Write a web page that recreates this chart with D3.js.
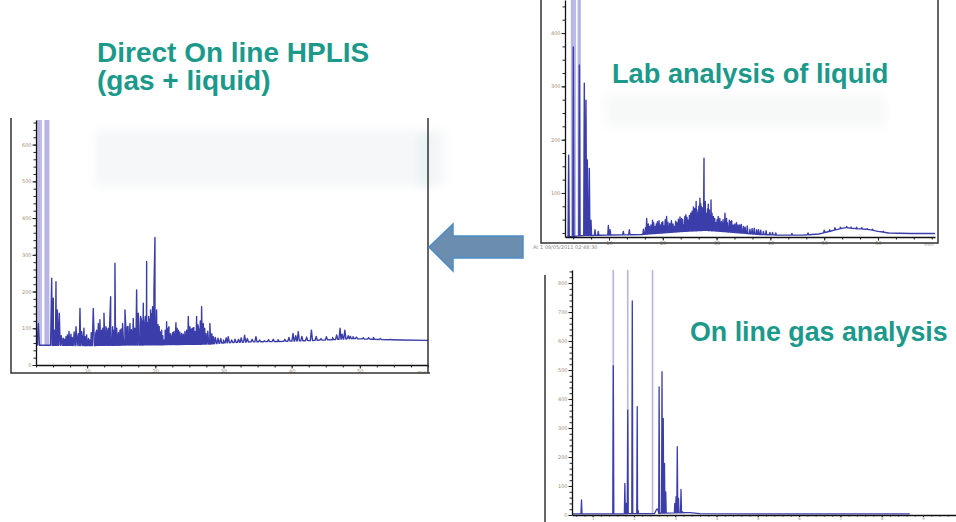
<!DOCTYPE html>
<html><head><meta charset="utf-8">
<script src="https://cdn.jsdelivr.net/npm/d3@7"></script>
<style>html,body{margin:0;padding:0;background:#fff;overflow:hidden}</style>
</head><body>
<svg id="c" width="956" height="522"></svg>
<script>
// ---------------- DATA ----------------
// Direct on-line HPLIS (gas + liquid): time (min), signal
const hplisBaseline = [[2.5,54],[10,53],[20,55],[28,57],[30,60],[34,63],[38,64],[42,66],[46,69],[49,72],[52,70],[56,68],[60,67]];
const hplisPeaks = [[2.84,113],[4.8,236],[5.04,182],[5.2,95],[5.43,227],[5.63,150],[5.92,141],[6.2,80],[6.5,73],[6.7,70],[6.9,77],[7.1,82],[7.34,91],[7.63,84],[7.8,75],[8.1,90],[8.37,104],[8.7,85],[8.95,154],[9.2,91],[9.54,100],[9.7,78],[9.93,82],[10.2,72],[10.4,68],[10.6,88],[10.9,154],[11.25,86],[11.4,95],[11.64,113],[11.88,123],[12.13,95],[12.3,100],[12.47,141],[12.76,104],[12.9,92],[13.1,100],[13.3,110],[13.45,186],[13.74,104],[13.9,95],[14.08,277],[14.33,100],[14.6,88],[14.82,95],[15.0,98],[15.2,113],[15.55,150],[15.7,92],[15.9,104],[16.0,105],[16.28,113],[16.5,96],[16.77,127],[17.0,100],[17.26,204],[17.5,141],[17.6,110],[17.85,132],[18.0,120],[18.24,168],[18.4,105],[18.53,132],[18.73,282],[18.9,115],[19.02,132],[19.15,125],[19.3,150],[19.45,140],[19.6,159],[19.8,200],[19.95,347],[20.19,150],[20.4,110],[20.58,104],[20.75,90],[20.93,95],[21.1,80],[21.27,68],[21.45,95],[21.66,118],[21.85,98],[22.0,104],[22.2,85],[22.4,77],[22.55,88],[22.73,91],[23.03,115],[23.2,100],[23.37,95],[23.6,90],[23.86,86],[24.1,84],[24.35,91],[24.6,95],[24.84,132],[25.08,104],[25.3,98],[25.47,100],[25.65,102],[25.81,91],[26.06,132],[26.25,110],[26.4,95],[26.6,120],[26.79,159],[27.04,113],[27.25,100],[27.43,86],[27.7,92],[28.0,113],[28.3,85],[28.5,77],[28.8,75],[29.2,73],[29.6,72],[30.0,68],[30.4,74],[30.7,77],[31.2,68],[31.7,70],[32.2,70],[32.6,74],[33.1,81],[33.5,72],[34.2,70],[34.76,77],[35.3,68],[36,66],[36.6,69],[37.3,70],[38,69],[39,70],[39.6,75],[40.2,86],[40.6,80],[40.97,91],[41.5,78],[42.2,76],[42.9,95],[43.6,78],[44.3,72],[45.1,77],[46,75],[46.6,82],[47.1,100],[47.4,84],[47.8,95],[48.3,80],[48.6,78],[49.0,77],[49.5,76],[50.5,74],[51.3,74],[52,75],[53,72],[54.5,70]];
const hplisOffscale = [2.65,2.85,3.05,3.25,3.85,4.02,4.2,4.35];
const hplisXTicks = [10,20,30,40,50];
const hplisYTicks = [0,100,200,300,400,500,600];

// Lab analysis of liquid
const liquidBaseline = [[1.8,17],[5,20],[10,21],[16,22],[20,25],[24,28],[28,30],[32,27],[38,22],[42,21],[46,21],[49,23],[51,28],[53,33],[54,35],[56,33],[58,32],[60,28],[62,25],[66,24],[70.6,24]];
const liquidPeaks = [[2.5,171],[3.37,374],[4.49,340],[5.41,306],[5.72,274],[5.97,162],[6.34,146],[6.65,49],[7.4,31],[8.0,28],[9.88,39],[10.2,31],[12.66,28],[13.78,31],[16.4,32],[16.8,35],[17.0,52],[17.3,42],[17.5,37],[17.8,40],[18.1,49],[18.3,44],[18.55,37],[18.8,42],[19.0,46],[19.3,48],[19.6,40],[19.8,44],[20.0,46],[20.2,38],[20.45,50],[20.7,56],[20.95,45],[21.3,43],[21.6,48],[21.9,42],[22.1,37],[22.4,47],[22.6,44],[22.9,51],[23.2,55],[23.5,52],[23.7,50],[23.9,40],[24.1,56],[24.3,59],[24.5,54],[24.75,49],[24.95,58],[25.2,62],[25.45,66],[25.7,74],[25.85,70],[26.0,71],[26.2,84],[26.35,68],[26.5,62],[26.7,75],[26.9,90],[27.05,80],[27.2,74],[27.45,72],[27.66,165],[27.8,78],[27.9,84],[28.15,62],[28.3,70],[28.46,79],[28.65,68],[28.8,56],[28.96,87],[29.15,62],[29.4,56],[29.65,52],[29.9,44],[30.1,50],[30.3,56],[30.6,52],[30.9,46],[31.2,50],[31.56,62],[31.85,52],[32.0,44],[32.37,49],[32.6,46],[32.8,48],[33.1,40],[33.4,42],[33.7,44],[34.0,40],[34.3,40],[34.6,41],[35.0,37],[35.3,36],[35.7,38],[36.2,32],[36.6,33],[37.0,34],[37.45,31],[37.8,31],[38.2,30],[38.7,28],[39.2,29],[39.9,26],[40.4,26],[41,25],[44,24],[47,25],[50,30],[51,31],[52,35],[53,36],[54.2,37],[55,36],[56,36],[57,35],[58,33],[59,32],[61,28]];
const liquidOffscale = [3.06,3.25,3.5,3.7,4.3,4.5,4.62];
const liquidXTicks = [10,20,30,40,50,60];
const liquidYTicks = [100,200,300,400];

// On line gas analysis
const gasBaseline = [[0.5,4],[1.4,4],[2.5,5],[2.55,20],[2.58,20],[2.6,6],[3.25,8],[3.35,8],[3.6,5],[5,4],[8.68,4]];
const gasPeaks = [[0.73,52],[1.5,515],[1.78,109],[1.81,40],[1.85,362],[1.96,738],[2.08,374],[2.1,17],[2.61,442],[2.68,494],[2.71,333],[2.74,178],[2.77,80],[2.99,40],[3.02,63],[3.05,236],[3.08,57],[3.14,88],[3.18,11]];
const gasOffscale = [1.5,1.85,2.45];
const gasXTicks = [1,2,3,4,5,6,7,8,9];
const gasYTicks = [0,100,200,300,400,500,600,700,800];

const stamp = "At 1 09/05/2011 02:48:30";

// ---------------- DRAWING ----------------
const svg = d3.select("#c");
const defs = svg.append("defs");
defs.append("filter").attr("id","blur").append("feGaussianBlur").attr("stdDeviation",5);

const TEAL = "#1b998b";
const TRACE = "#3b3eaa";
const LIGHT = "#b7b5e6";
const TICKTXT = "#a48e78";

// faint ghost background smudges
const ghost = svg.append("g").attr("filter","url(#blur)");
ghost.append("rect").attr("x",95).attr("y",130).attr("width",350).attr("height",56).attr("fill","#f5f7f8");
ghost.append("rect").attr("x",420).attr("y",135).attr("width",9).attr("height",52).attr("fill","#e3f1f0");
ghost.append("rect").attr("x",605).attr("y",95).attr("width",280).attr("height",32).attr("fill","#f7f8f8");

let clipId = 0;
function chromatogram(c) {
  const x = d3.scaleLinear().domain(c.xDomain).range([c.x0, c.x1]);
  const y = d3.scaleLinear().domain(c.yDomain).range([c.yb, c.yt]);
  const baseAt = d3.scaleLinear().domain(c.baseline.map(d => d[0])).range(c.baseline.map(d => d[1])).clamp(true);
  const id = "clip" + (clipId++);
  defs.append("clipPath").attr("id", id).append("rect")
    .attr("x", c.x0).attr("y", c.yt).attr("width", c.x1 - c.x0).attr("height", c.yb - c.yt);
  const g = svg.append("g");
  const plot = g.append("g").attr("clip-path", `url(#${id})`);
  plot.selectAll("line.off").data(c.offscale).join("line")
    .attr("x1", d => x(d)).attr("x2", d => x(d))
    .attr("y1", d => y(baseAt(d))).attr("y2", y(c.yDomain[1]))
    .attr("stroke", LIGHT).attr("stroke-width", c.offWidth);
  const pts = c.baseline.map(d => [d[0], d[1]]);
  c.peaks.forEach(p => {
    pts.push([p[0] - c.hw, baseAt(p[0] - c.hw)]);
    pts.push([p[0], p[1]]);
    pts.push([p[0] + c.hw, baseAt(p[0] + c.hw)]);
  });
  pts.sort((a, b) => a[0] - b[0]);
  plot.append("path").datum(pts.filter(d => d[0] <= c.traceEnd))
    .attr("d", d3.line().x(d => x(d[0])).y(d => y(d[1])))
    .attr("fill", "none").attr("stroke", TRACE).attr("stroke-width", c.sw).attr("stroke-linejoin", "round");
  // axes
  const xa = g.append("g").attr("transform", `translate(0,${c.yb})`);
  xa.call(d3.axisBottom(x).tickValues(c.xMinor).tickSize(c.xMinorSize).tickFormat("").tickSizeOuter(0));
  xa.select(".domain").remove();
  const xa2 = g.append("g").attr("transform", `translate(0,${c.yb})`)
    .call(d3.axisBottom(x).tickValues(c.xTicks).tickSize(c.xMajorSize).tickPadding(c.xPad).tickSizeOuter(0));
  xa2.select(".domain").attr("stroke", "#111").attr("stroke-width", 1.3);
  if (c.xEndLabel) xa2.append("text").attr("x", x(c.xDomain[1]) - 6).attr("y", 8.5).text(c.xEndLabel);
  const ya = g.append("g").attr("transform", `translate(${c.x0},0)`);
  ya.call(d3.axisLeft(y).tickValues(c.yMinor).tickSize(2.5).tickFormat("").tickSizeOuter(0));
  ya.select(".domain").remove();
  const ya2 = g.append("g").attr("transform", `translate(${c.x0},0)`)
    .call(d3.axisLeft(y).tickValues(c.yTicks).tickSize(3.5).tickPadding(1).tickSizeOuter(0));
  ya2.select(".domain").attr("stroke", "#111").attr("stroke-width", 1.3);
  g.selectAll(".tick line").attr("stroke", "#222");
  g.selectAll("text").attr("font-size", 5).attr("font-family", "DejaVu Sans, sans-serif").attr("fill", TICKTXT);
  if (c.xLabelSize) xa2.selectAll("text").attr("font-size", c.xLabelSize);
  g.append("path").attr("d", c.frame).attr("fill", "none").attr("stroke", "#333").attr("stroke-width", 1.5);
  return {x, y};
}

const range = (a, b, s) => d3.range(Math.round(a / s), Math.round(b / s) + 1).map(i => +(i * s).toFixed(4));

chromatogram({
  xDomain: [2.5, 60], yDomain: [0, 667], x0: 36, x1: 428, yb: 365, yt: 120,
  baseline: hplisBaseline, peaks: hplisPeaks, offscale: hplisOffscale, hw: 0.16, sw: 1.4, offWidth: 1.6, traceEnd: 60,
  xTicks: hplisXTicks, xMinor: range(2.5, 60, 2.5), yTicks: hplisYTicks, yMinor: range(0, 660, 20),
  xMinorSize: 2.5, xMajorSize: 3.5, xPad: 1, xEndLabel: "min",
  frame: "M11,118V373H430M428,118V373"
});

chromatogram({
  xDomain: [1.82, 70.6], yDomain: [17.4, 462], x0: 565, x1: 935, yb: 237, yt: 0,
  baseline: liquidBaseline, peaks: liquidPeaks, offscale: liquidOffscale, hw: 0.11, sw: 1.4, offWidth: 1.6, traceEnd: 70.6,
  xTicks: liquidXTicks, xMinor: range(10/3, 70, 10/3), yTicks: liquidYTicks, yMinor: range(25, 450, 25),
  xMinorSize: 2.5, xMajorSize: 3.5, xPad: 1, xEndLabel: "min",
  frame: "M541,0V243H938V0"
});
svg.append("text").attr("x", 533).attr("y", 249).text(stamp)
  .attr("font-size", 5).attr("font-family", "DejaVu Sans, sans-serif").attr("fill", "#888");

chromatogram({
  xDomain: [0.5, 9.8], yDomain: [0, 845], x0: 572, x1: 956, yb: 515, yt: 270,
  baseline: gasBaseline, peaks: gasPeaks, offscale: gasOffscale, hw: 0.012, sw: 1.3, offWidth: 1.6, traceEnd: 8.68,
  xTicks: gasXTicks, xMinor: range(0.6, 9.8, 0.2), yTicks: gasYTicks, yMinor: range(0, 840, 20),
  xMinorSize: 1.5, xMajorSize: 2, xPad: 0, xLabelSize: 4,
  frame: "M545,275V522"
});

// arrow
svg.append("path")
  .attr("d", "M429,247L453,224L453,236L523,236L523,258L453,258L453,271Z")
  .attr("fill", "#6b8eae").attr("stroke", "#4c8cc6").attr("stroke-width", 1.5);

// titles
const title = (x, y, size, lines) => {
  const t = svg.append("text").attr("x", x).attr("y", y)
    .attr("font-family", "Liberation Sans, Arial, sans-serif").attr("font-weight", "bold")
    .attr("font-size", size).attr("fill", TEAL);
  lines.forEach((l, i) => t.append("tspan").attr("x", x).attr("dy", i ? 28 : 0).text(l));
};
title(97, 62, 28, ["Direct On line HPLIS", "(gas + liquid)"]);
title(612, 83, 27.2, ["Lab analysis of liquid"]);
title(690, 341, 26.8, ["On line gas analysis"]);
</script>
</body></html>
